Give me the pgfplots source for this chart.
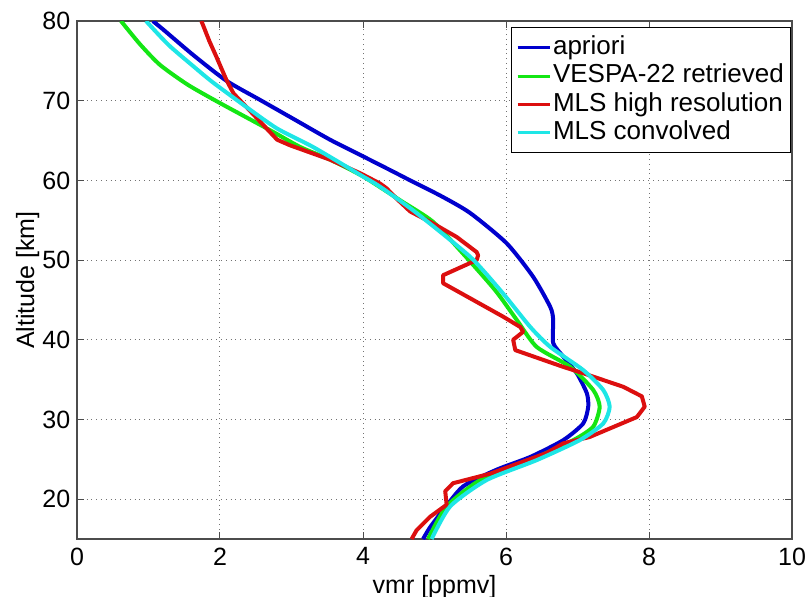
\documentclass[border=0pt]{standalone}
\usepackage{fontspec}
\setmainfont{Liberation Sans}
\usepackage{pgfplots}
\pgfplotsset{compat=1.18}
\definecolor{mblue}{RGB}{0,0,205}
\definecolor{mgreen}{RGB}{20,230,20}
\definecolor{mred}{RGB}{220,15,15}
\definecolor{mcyan}{RGB}{30,230,230}
\begin{document}
\fontsize{12.5}{15}\selectfont
\begin{tikzpicture}
\useasboundingbox (-38.5pt,-28.5pt) rectangle (365.5pt,269.5pt);
\begin{axis}[
  at={(0pt,0pt)}, anchor=south west,
  width=357.5pt, height=259pt, scale only axis,
  xmin=0, xmax=10, ymin=15, ymax=80,
  xtick={0,2,...,10}, ytick={20,30,...,80},
  grid=major, major grid style={dotted, black!55, line width=0.5pt},
  axis line style={black!70, line width=0.6pt},
  tick style={black!70, line width=0.5pt},
  tick align=inside, tick pos=both, major tick length=3.5pt,
  /pgf/number format/assume math mode=true,
  every tick label/.append style={font=\fontsize{12.5}{15}\selectfont},
  yticklabel style={xshift=1pt},
  xlabel={vmr [ppmv]}, ylabel={Altitude [km]},
  every axis x label/.style={at={(axis description cs:0.5,-0.092)}, anchor=center, font=\fontsize{12.5}{15}\selectfont},
  every axis y label/.style={at={(axis description cs:-0.069,0.5)}, rotate=90, anchor=center, font=\fontsize{12.5}{15}\selectfont},
  legend style={at={(0.999,0.988)}, anchor=north east, draw=black, line width=0.5pt, fill=white,
    inner xsep=2.5pt, inner ysep=3pt,
    font=\fontsize{13}{15}\selectfont,
    nodes={inner sep=1pt, text height=9.5pt, text depth=2.6pt},
    /tikz/every even column/.append style={column sep=0pt}},
  legend cell align=left,
  legend image code/.code={\draw[#1, line width=1.5pt] (0pt,0pt) -- (16pt,0pt);},
  every axis plot/.append style={line width=2pt, line join=round},
]
\addplot[mblue, smooth, tension=0.4] coordinates {
(1.06,80) (1.21,78.9) (1.63,75.7) (2.09,72.5) (2.56,70.1) (3.05,67.6) (3.54,65.1) (3.96,63.2)
(4.40,61.2) (4.66,60.0) (5.10,58.0) (5.50,55.9) (6.01,52.1) (6.38,47.9) (6.62,44.1) (6.66,42.5)
(6.66,39.6) (6.80,37.9) (6.99,35.8) (7.13,33.3) (7.15,31.6) (7.08,29.5) (6.80,27.4) (6.34,25.3)
(5.87,23.7) (5.40,21.6) (5.12,18.6) (4.94,16.5) (4.84,15)
};
\addlegendentry{apriori}
\addplot[mgreen, smooth, tension=0.4] coordinates {
(0.615,80) (0.88,77.1) (1.16,74.5) (1.55,72.0) (2.00,69.7) (2.70,66.3) (3.12,64.2) (3.54,62.6)
(4.00,60.5) (4.52,57.5) (4.98,54.8) (5.42,50.6) (5.85,46.2) (6.15,42.5) (6.43,39.1) (6.90,36.6)
(7.22,33.7) (7.31,31.6) (7.22,29.1) (6.94,27.4) (6.34,24.9) (5.64,22.4) (5.17,19.1) (4.91,15)
};
\addlegendentry{VESPA-22 retrieved}
\addplot[mred] coordinates {
(1.74,80) (1.85,77.5) (1.95,75.5) (2.09,72.6) (2.19,70.9) (2.37,69.2) (2.80,65.1) (2.98,64.4)
(3.54,62.6) (3.96,60.9) (4.24,59.6) (4.33,59.0) (4.47,57.7) (4.66,56.1) (4.98,54.6) (5.31,52.9)
(5.59,51.0) (5.61,50.6) (5.59,50.0) (5.12,48.1) (5.12,47.1) (5.96,42.9) (6.20,41.6) (6.24,41.0)
(6.10,40.0) (6.13,38.7) (6.80,36.6) (7.08,35.8) (7.64,34.1) (7.90,32.9) (7.94,31.6) (7.83,30.3)
(7.17,27.8) (6.80,27.0) (6.57,25.8) (5.78,23.2) (5.26,22.0) (5.15,21.0) (5.17,19.3) (4.94,17.8)
(4.75,16.1) (4.68,15)
};
\addlegendentry{MLS high resolution}
\addplot[mcyan, smooth, tension=0.4] coordinates {
(0.965,80) (1.28,77) (1.63,74.3) (1.90,72.3) (2.37,69.2) (2.80,66.5) (3.30,64.2) (3.96,60.7)
(4.24,59.2) (4.75,55.9) (5.50,50.4) (5.96,45.8) (6.34,41.6) (6.62,39.1) (7.08,36.2) (7.36,33.7)
(7.45,31.6) (7.36,29.5) (7.03,27.4) (6.43,24.9) (5.73,22.4) (5.22,19.1) (4.96,15)
};
\addlegendentry{MLS convolved}
\end{axis}
\end{tikzpicture}
\end{document}
